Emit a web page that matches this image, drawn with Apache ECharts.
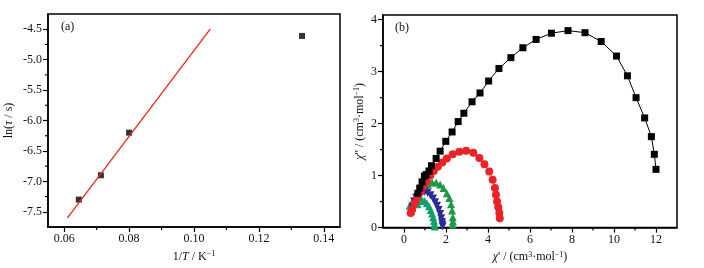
<!DOCTYPE html>
<html>
<head>
<meta charset="utf-8">
<script src="https://cdn.jsdelivr.net/npm/echarts@6/dist/echarts.min.js"></script>
<style>
  html, body { margin: 0; padding: 0; background: #fff; }
  #chart { width: 704px; height: 268px; }
</style>
</head>
<body>
<div id="chart"></div>
<script>
// (a) Arrhenius plot
const invT = [0.0645, 0.0713, 0.0800, 0.1333]
const lnTau = [-7.30, -6.90, -6.20, -4.61]
const fitX = [0.061, 0.105]
const fitY = [-7.6, -4.5]
const aXTicks = [0.06, 0.08, 0.10, 0.12, 0.14]
const aXMinor = [0.07, 0.09, 0.11, 0.13]
const aYTicks = [-7.5, -7.0, -6.5, -6.0, -5.5, -5.0, -4.5]
const aYMinor = [-7.25, -6.75, -6.25, -5.75, -5.25, -4.75]

// (b) Cole-Cole plot
const blackX = [0.66, 0.75, 0.86, 0.97, 1.05, 1.19, 1.31, 1.53, 1.72, 1.99, 2.29, 2.58, 2.85, 3.24, 3.62, 4.03, 4.52, 5.09, 5.66, 6.29, 7.02, 7.81, 8.62, 9.39, 10.12, 10.64, 11.05, 11.46, 11.78, 11.92, 12.00]
const blackY = [0.66, 0.76, 0.88, 0.99, 1.02, 1.09, 1.19, 1.33, 1.47, 1.66, 1.84, 2.04, 2.20, 2.42, 2.59, 2.82, 3.06, 3.27, 3.46, 3.62, 3.74, 3.79, 3.75, 3.58, 3.30, 2.92, 2.50, 2.11, 1.75, 1.41, 1.12]
const redX = [0.32, 0.39, 0.51, 0.63, 0.79, 0.93, 1.09, 1.25, 1.42, 1.61, 1.82, 2.04, 2.32, 2.64, 2.96, 3.30, 3.59, 3.83, 4.06, 4.22, 4.33, 4.38, 4.43, 4.49, 4.54, 4.56]
const redY = [0.28, 0.35, 0.47, 0.58, 0.69, 0.80, 0.90, 1.00, 1.09, 1.17, 1.25, 1.33, 1.41, 1.46, 1.48, 1.44, 1.34, 1.22, 1.08, 0.92, 0.76, 0.63, 0.50, 0.39, 0.28, 0.18]
const greenX = [0.27, 0.33, 0.42, 0.58, 0.74, 0.95, 1.14, 1.34, 1.53, 1.72, 1.88, 2.04, 2.16, 2.24, 2.29, 2.32, 2.33, 2.32]
const greenY = [0.42, 0.32, 0.51, 0.61, 0.70, 0.78, 0.83, 0.87, 0.87, 0.83, 0.76, 0.66, 0.57, 0.45, 0.33, 0.20, 0.12, 0.06]
const blueX = [0.40, 0.48, 0.58, 0.70, 0.84, 0.98, 1.12, 1.26, 1.38, 1.48, 1.57, 1.65, 1.72, 1.77, 1.81, 1.83, 1.84]
const blueY = [0.40, 0.50, 0.58, 0.64, 0.68, 0.69, 0.67, 0.62, 0.56, 0.49, 0.42, 0.34, 0.26, 0.18, 0.11, 0.06, 0.02]
const tealX = [0.65, 0.75, 0.86, 0.98, 1.09, 1.19, 1.27, 1.34, 1.39, 1.43, 1.45, 1.46]
const tealY = [0.45, 0.51, 0.53, 0.51, 0.47, 0.41, 0.34, 0.27, 0.20, 0.13, 0.07, 0.02]
const bXTicks = [0, 2, 4, 6, 8, 10, 12]
const bXMinor = [1, 3, 5, 7, 9, 11]
const bYTicks = [0, 1, 2, 3, 4]
const bYMinor = [0.5, 1.5, 2.5, 3.5]

const aRange = { x: [0.055, 0.145], y: [-7.75, -4.25] }
const bRange = { x: [-1, 13], y: [0, 4.09] }

function zip (xs, ys) {
  return xs.map((x, i) => [x, ys[i]])
}

const font = 'Liberation Serif'
const textBase = { fontFamily: font, fontSize: 12, color: '#111' }

function majorAxis (opt) {
  return Object.assign({
    type: 'value',
    axisLine: { show: true, onZero: false, lineStyle: { color: '#000', width: 1.5 } },
    axisTick: { show: true, inside: false, length: 5, lineStyle: { color: '#000', width: 1.2 }, customValues: opt.ticks },
    axisLabel: Object.assign({ customValues: opt.ticks, margin: 6 }, textBase, opt.label || {}),
    splitLine: { show: false }
  }, opt.extra)
}

// short outward minor ticks, placed through the axis scales
function minorTicks (idx, range, xs, ys) {
  const data = xs.map(v => [v, range.y[0], 0]).concat(ys.map(v => [range.x[0], v, 1]))
  return {
    type: 'custom', xAxisIndex: idx, yAxisIndex: idx, clip: false, silent: true, z: 5,
    data: data,
    renderItem: function (params, api) {
      const p = api.coord([api.value(0), api.value(1)])
      const vertical = api.value(2) === 0
      return {
        type: 'line',
        shape: vertical
          ? { x1: p[0], y1: p[1], x2: p[0], y2: p[1] + 3 }
          : { x1: p[0] - 3, y1: p[1], x2: p[0], y2: p[1] },
        style: { stroke: '#000', lineWidth: 1.2 }
      }
    }
  }
}

const rich = {
  i: { fontFamily: font, fontSize: 12, fontStyle: 'italic', color: '#111' },
  n: { fontFamily: font, fontSize: 12, color: '#111' },
  s: { fontFamily: font, fontSize: 8, color: '#111', verticalAlign: 'top', padding: [0, 0, 5, 0] }
}

const chart = echarts.init(document.getElementById('chart'))
chart.setOption({
  animation: false,
  backgroundColor: '#fff',
  grid: [
    { left: 48, top: 14, width: 292, height: 213, show: true, borderColor: '#000', borderWidth: 1.5, backgroundColor: 'transparent' },
    { left: 383, top: 15, width: 294, height: 213, show: true, borderColor: '#000', borderWidth: 1.5, backgroundColor: 'transparent' }
  ],
  graphic: [
    { type: 'text', left: 61, top: 21, style: { text: '(a)', font: '12px "Liberation Serif"', fill: '#111' } },
    { type: 'text', left: 395, top: 22, style: { text: '(b)', font: '12px "Liberation Serif"', fill: '#111' } }
  ],
  xAxis: [
    majorAxis({
      ticks: aXTicks,
      label: { formatter: v => v.toFixed(2) },
      extra: {
        gridIndex: 0, min: aRange.x[0], max: aRange.x[1],
        name: '{n|1/}{i|T}{n| / K}{s|−1}', nameLocation: 'middle', nameGap: 18,
        nameTextStyle: { rich: rich }
      }
    }),
    majorAxis({
      ticks: bXTicks,
      extra: {
        gridIndex: 1, min: bRange.x[0], max: bRange.x[1],
        name: '{i|χ}{n|\' / (cm}{s|3}{n|·mol}{s|−1}{n|)}', nameLocation: 'middle', nameGap: 18,
        nameTextStyle: { rich: rich }
      }
    })
  ],
  yAxis: [
    majorAxis({
      ticks: aYTicks,
      label: { formatter: v => v.toFixed(1) },
      extra: {
        gridIndex: 0, min: aRange.y[0], max: aRange.y[1],
        name: '{n|ln(}{i|τ}{n| / s)}', nameLocation: 'middle', nameGap: 33,
        nameTextStyle: { rich: rich }
      }
    }),
    majorAxis({
      ticks: bYTicks,
      extra: {
        gridIndex: 1, min: bRange.y[0], max: bRange.y[1],
        name: '{i|χ}{n|\'\' / (cm}{s|3}{n|·mol}{s|−1}{n|)}', nameLocation: 'middle', nameGap: 17,
        nameTextStyle: { rich: rich }
      }
    })
  ],
  series: [
    minorTicks(0, aRange, aXMinor, aYMinor),
    minorTicks(1, bRange, bXMinor, bYMinor),
    {
      type: 'line', xAxisIndex: 0, yAxisIndex: 0, data: zip(fitX, fitY),
      showSymbol: false, lineStyle: { color: '#e8261f', width: 1.3 }
    },
    {
      type: 'scatter', xAxisIndex: 0, yAxisIndex: 0, data: zip(invT, lnTau),
      symbol: 'rect', symbolSize: 6, itemStyle: { color: '#000' }
    },
    {
      type: 'line', xAxisIndex: 1, yAxisIndex: 1, data: zip(greenX, greenY),
      symbol: 'triangle', symbolSize: 8, itemStyle: { color: '#1e9a46' },
      lineStyle: { color: '#1e9a46', width: 1 }
    },
    {
      type: 'line', xAxisIndex: 1, yAxisIndex: 1, data: zip(tealX, tealY),
      symbol: 'triangle', symbolSize: 8, itemStyle: { color: '#12a06a' },
      lineStyle: { color: '#12a06a', width: 1 }
    },
    {
      type: 'line', xAxisIndex: 1, yAxisIndex: 1, data: zip(blueX, blueY),
      symbol: 'triangle', symbolRotate: 180, symbolSize: 8, itemStyle: { color: '#2b2a96' },
      lineStyle: { color: '#2b2a96', width: 1 }
    },
    {
      type: 'line', xAxisIndex: 1, yAxisIndex: 1, data: zip(redX, redY),
      symbol: 'circle', symbolSize: 8, itemStyle: { color: '#ec2226' },
      lineStyle: { color: '#ec2226', width: 1 }
    },
    {
      type: 'line', xAxisIndex: 1, yAxisIndex: 1, data: zip(blackX, blackY),
      symbol: 'rect', symbolSize: 7, itemStyle: { color: '#000' },
      lineStyle: { color: '#000', width: 1 }
    }
  ]
})
</script>
</body>
</html>
